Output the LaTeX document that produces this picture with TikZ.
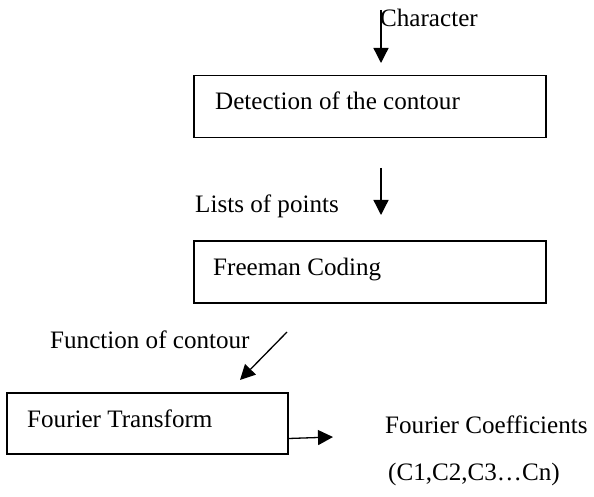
\documentclass[tikz,border=0pt]{standalone}
\usepackage{fontspec}
\setmainfont{Liberation Serif}
\usetikzlibrary{arrows.meta}
\begin{document}
\begin{tikzpicture}[x=1pt,y=-1pt,
  box/.style={draw=black,line width=1.5pt,minimum width=#1,minimum height=62pt,inner sep=0pt,anchor=north west},
  lbl/.style={anchor=base west,inner sep=0pt,font=\fontsize{25.1}{30}\selectfont},
  arr/.style={line width=1.3pt,-{Triangle[width=15pt,length=15pt]}}]
\useasboundingbox (0,0) rectangle (594,497);
% boxes
\node[box=352pt] (b1) at (193,75) {};
\node[box=352pt] (b2) at (193,240) {};
\node[box=281pt,minimum height=61pt] (b3) at (6,392) {};
% box texts
\node[lbl] (t1) at (215,110) {Detection of the contour};
\node[lbl] (t2) at (213,275) {Freeman Coding};
\node[lbl] (t3) at (27,427) {Fourier Transform};
% labels
\node[lbl] (char) at (380,27) {Character};
\node[lbl] (lists) at (195,212) {Lists of points};
\node[lbl] (func) at (50,348) {Function of contour};
\node[lbl] (fc) at (385,433) {Fourier Coefficients};
\node[lbl] (cn) at (388,480) {(C1,C2,C3…Cn)};
% arrow ends
\coordinate (a1s) at (381,10);
\coordinate (a1e) at (381,63);
\coordinate (a2s) at (381,168);
\coordinate (a2e) at (381,215);
\coordinate (a3s) at (287,332);
\coordinate (a3e) at (240,380);
\coordinate (a4e) at (333,437);
% arrows
\draw[arr] (a1s) -- (a1e);
\draw[arr] (a2s) -- (a2e);
\draw[arr] (a3s) -- (a3e);
\draw[arr] ([yshift=16pt]b3.south east) -- (a4e);
\end{tikzpicture}
\end{document}
